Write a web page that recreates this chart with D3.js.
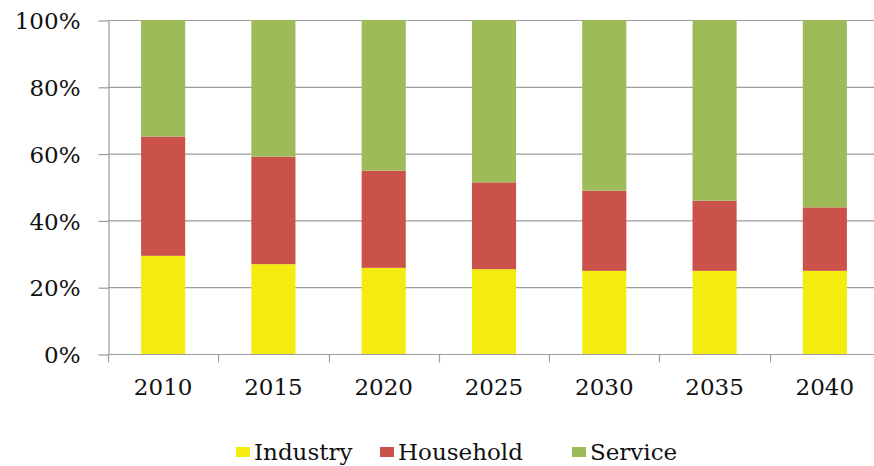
<!DOCTYPE html>
<html>
<head>
<meta charset="utf-8">
<script src="https://cdn.jsdelivr.net/npm/d3@7"></script>
<style>
  body { margin: 0; background: #fff; }
  svg { display: block; }
  text { font-family: "DejaVu Serif", "Liberation Serif", serif; fill: #111; }
</style>
</head>
<body>
<svg width="874" height="466"></svg>
<script>
// Share of each sector per year (percent)
var years = ["2010", "2015", "2020", "2025", "2030", "2035", "2040"];
var industry  = [29.4, 26.9, 25.8, 25.4, 24.9, 24.9, 24.9];
var household = [35.7, 32.2, 29.1, 26.0, 24.0, 21.0, 19.0];
var service   = [34.9, 40.9, 45.1, 48.6, 51.1, 54.1, 56.1];
var seriesNames = ["Industry", "Household", "Service"];
var colors = ["#f5ec0f", "#cb524a", "#9dbb58"];
var yTicks = [0, 20, 40, 60, 80, 100];

var svg = d3.select("svg");

var rows = years.map(function(y, i) {
  return { year: y, Industry: industry[i], Household: household[i], Service: service[i] };
});

var x = d3.scaleBand()
    .domain(years)
    .range([108, 880])
    .paddingInner(0.6)
    .paddingOuter(0.3);

var y = d3.scaleLinear()
    .domain([0, 100])
    .range([354, 20]);

// gridlines
svg.append("g")
    .selectAll("line")
    .data(yTicks)
    .enter().append("line")
    .attr("x1", 108)
    .attr("x2", 880)
    .attr("y1", function(d) { return y(d) + 0.5; })
    .attr("y2", function(d) { return y(d) + 0.5; })
    .attr("stroke", "#9d9d9d")
    .attr("stroke-width", 1.2);

var stack = d3.stack().keys(seriesNames);
var layers = stack(rows);

svg.append("g")
    .selectAll("g")
    .data(layers)
    .enter().append("g")
    .attr("fill", function(d, i) { return colors[i]; })
    .selectAll("rect")
    .data(function(d) { return d; })
    .enter().append("rect")
    .attr("x", function(d) { return x(d.data.year); })
    .attr("width", x.bandwidth())
    .attr("y", function(d) { return y(d[1]); })
    .attr("height", function(d) { return y(d[0]) - y(d[1]); });

// y axis
var yAxis = svg.append("g")
    .attr("transform", "translate(108.5,0.5)")
    .call(d3.axisLeft(y)
        .tickValues(yTicks)
        .tickSizeInner(10)
        .tickSizeOuter(0)
        .tickPadding(18)
        .tickFormat(function(d) { return d + "%"; }));
yAxis.selectAll("text").style("font-size", "23px").attr("dy", "0.36em");

// x axis, ticks sit on the band boundaries
var xAxis = svg.append("g")
    .attr("transform", "translate(0,354.5)");
xAxis.append("line")
    .attr("x1", 108).attr("x2", 880)
    .attr("stroke", "#9d9d9d").attr("stroke-width", 1.2);
xAxis.selectAll(".tk")
    .data(years)
    .enter().append("line")
    .attr("class", "tk")
    .attr("x1", function(d) { return Math.round(x(d) - x.step() * 0.3) + 0.5; })
    .attr("x2", function(d) { return Math.round(x(d) - x.step() * 0.3) + 0.5; })
    .attr("y1", 0).attr("y2", 8)
    .attr("stroke", "#9d9d9d").attr("stroke-width", 1.2);
xAxis.selectAll("text")
    .data(years)
    .enter().append("text")
    .attr("x", function(d) { return x(d) + x.bandwidth() / 2; })
    .attr("y", 40)
    .attr("text-anchor", "middle")
    .style("font-size", "23px")
    .text(function(d) { return d; });
yAxis.select(".domain").attr("stroke", "#9d9d9d").attr("stroke-width", 1.2);
yAxis.selectAll(".tick line").attr("stroke", "#9d9d9d").attr("stroke-width", 1.2);

// legend
var legendX = [236, 380, 572];
var legend = svg.append("g")
    .selectAll("g")
    .data(seriesNames)
    .enter().append("g")
    .attr("transform", function(d, i) { return "translate(" + legendX[i] + ",447)"; });
legend.append("rect")
    .attr("width", 14)
    .attr("height", 10)
    .attr("fill", function(d, i) { return colors[i]; });
legend.append("text")
    .attr("x", 18)
    .attr("y", 13)
    .style("font-size", "23px")
    .text(function(d) { return d; });
</script>
</body>
</html>
